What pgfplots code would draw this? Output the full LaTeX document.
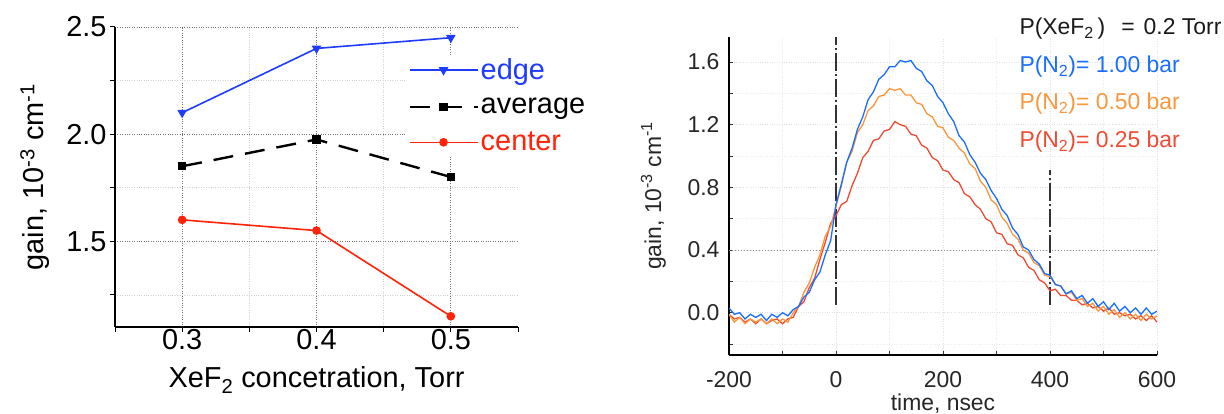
\documentclass[border=0pt]{standalone}
\usepackage{fontspec}
\setmainfont{Liberation Sans}
\usepackage{pgfplots}
\pgfplotsset{compat=1.18}

\definecolor{edgeblue}{RGB}{30,60,255}
\definecolor{centerred}{RGB}{255,35,10}
\definecolor{tblue}{RGB}{25,110,255}
\definecolor{torange}{RGB}{250,150,60}
\definecolor{tred}{RGB}{240,75,50}

\newcommand{\bigf}{\fontsize{29}{33}\selectfont}
\newcommand{\smf}{\fontsize{23}{27}\selectfont}

\begin{document}
\begin{tikzpicture}
\useasboundingbox (0,0) rectangle (1224bp,414bp);

% left panel: gain vs XeF2 concentration
\begin{axis}[
    at={(115bp,87bp)}, anchor=south west,
    scale only axis, width=403bp, height=300bp,
    xmin=0.25, xmax=0.55, ymin=1.1, ymax=2.5,
    axis x line*=bottom, axis y line*=left,
    axis line style={line width=1.2bp},
    xtick={0.3,0.4,0.5}, minor xtick={0.35,0.45},
    extra x ticks={0.25,0.55}, extra x tick labels={},
    extra x tick style={grid=none},
    ytick={1.5,2.0,2.5}, minor ytick={1.25,1.75,2.25},
    tick align=outside, major tick length=5bp, minor tick length=5bp,
    every tick/.style={black, line width=1bp},
    grid=both,
    major grid style={dotted, black!55, line width=0.7bp},
    minor grid style={dotted, black!18, line width=0.7bp},
    /pgf/number format/assume math mode=true,
    xticklabel style={/pgf/number format/fixed, /pgf/number format/precision=1, yshift=6bp},
    yticklabel style={/pgf/number format/fixed, /pgf/number format/fixed zerofill, /pgf/number format/precision=1},
    tick label style={font=\bigf},
    label style={font=\bigf},
    xlabel={XeF\textsubscript{2} concetration, Torr},
    xlabel style={yshift=0bp},
    ylabel={gain, 10\textsuperscript{-3} cm\textsuperscript{-1}},
    ylabel style={yshift=10bp},
    legend cell align=left,
    legend style={at={(0.72,0.908)}, anchor=north west, draw=none, fill=white,
        font=\bigf, row sep=13bp,
        /tikz/every even column/.append style={column sep=6bp}},
    legend image code/.code={\draw[mark repeat=2,mark phase=2,#1]
        plot coordinates {(0bp,0bp) (34bp,0bp) (68bp,0bp)};},
]
\addplot[edgeblue, line width=1.6bp, mark=triangle*, mark size=4bp,
    every mark/.append style={rotate=180, solid}]
    coordinates {(0.3,2.10) (0.4,2.40) (0.5,2.45)};
\addlegendentry{\textcolor{edgeblue}{edge}}
\addplot[black, line width=2.4bp, dash pattern=on 20bp off 12bp,
    mark=square*, mark size=3bp, mark options={solid}]
    coordinates {(0.3,1.85) (0.4,1.975) (0.5,1.80)};
\addlegendentry{average}
\addplot[centerred, line width=1.6bp, mark=*, mark size=3.5bp]
    coordinates {(0.3,1.60) (0.4,1.55) (0.5,1.15)};
\addlegendentry{\textcolor{centerred}{center}}
\end{axis}

% right panel: gain vs time
\begin{axis}[
    at={(729bp,59bp)}, anchor=south west,
    scale only axis, width=428bp, height=318bp,
    xmin=-200, xmax=600, ymin=-0.27, ymax=1.76,
    axis x line*=bottom, axis y line*=left,
    axis line style={line width=1.5bp},
    xtick={-200,0,200,400,600}, minor xtick={-100,100,300,500},
    ytick={0,0.4,0.8,1.2,1.6}, minor ytick={-0.2,0.2,0.6,1.0,1.4},
    tick align=inside, major tick length=4bp, minor tick length=4bp,
    every tick/.style={black!80, line width=1bp},
    grid=both,
    major grid style={dotted, black!12, line width=0.7bp},
    minor grid style={dotted, black!8, line width=0.7bp},
    /pgf/number format/assume math mode=true,
    xticklabel style={/pgf/number format/fixed, yshift=-13bp},
    yticklabel style={/pgf/number format/fixed, /pgf/number format/fixed zerofill, /pgf/number format/precision=1, xshift=-6bp},
    tick label style={font=\smf, text=black!85},
    label style={font=\smf, text=black!85},
    xlabel={time, nsec},
    xlabel style={yshift=1bp},
    ylabel={gain, 10\textsuperscript{-3} cm\textsuperscript{-1}},
    ylabel style={yshift=15bp},
]
\addplot[black!45, dotted, line width=1bp] coordinates {(-200,0.4) (600,0.4)};
\addplot[black!80, line width=1.2bp, dash pattern=on 18bp off 3bp on 2bp off 3bp]
    coordinates {(0,0.05) (0,1.76)};
\addplot[black!80, line width=1.2bp, dash pattern=on 18bp off 3bp on 2bp off 3bp]
    coordinates {(400,0.05) (400,0.91)};

\addplot[tred, line width=1.3bp] coordinates {
(-200,-0.01) (-190,-0.04) (-180,-0.03) (-170,-0.06) (-160,-0.04) (-150,-0.07)
(-140,-0.04) (-130,-0.07) (-120,-0.05) (-110,-0.04) (-100,-0.07) (-90,-0.04)
(-80,-0.03) (-70,0.04) (-60,0.07) (-50,0.16) (-40,0.22) (-30,0.34) (-20,0.45)
(-10,0.57) (0,0.62) (10,0.69) (20,0.71) (30,0.81) (40,0.89) (50,0.99) (60,1.03)
(70,1.10) (80,1.11) (90,1.16) (100,1.17) (110,1.22) (120,1.20) (130,1.19)
(140,1.14) (150,1.13) (160,1.07) (170,1.05) (180,0.99) (190,0.97) (200,0.91)
(210,0.90) (220,0.85) (230,0.83) (240,0.76) (250,0.74) (260,0.69) (270,0.66)
(280,0.60) (290,0.58) (300,0.51) (310,0.50) (320,0.44) (330,0.43) (340,0.37)
(350,0.35) (360,0.29) (370,0.27) (380,0.21) (390,0.19) (400,0.14) (410,0.15)
(420,0.11) (430,0.11) (440,0.08) (450,0.08) (460,0.05) (470,0.06) (480,0.03)
(490,0.04) (500,0.01) (510,0.03) (520,-0.01) (530,0.00) (540,-0.02) (550,-0.01)
(560,-0.04) (570,-0.02) (580,-0.05) (590,-0.02) (600,-0.06)
};
\addplot[torange, line width=1.3bp] coordinates {
(-200,-0.01) (-190,-0.06) (-180,-0.03) (-170,-0.07) (-160,-0.04) (-150,-0.06)
(-140,-0.04) (-130,-0.07) (-120,-0.04) (-110,-0.07) (-100,-0.04) (-90,-0.06)
(-80,0.00) (-70,0.04) (-60,0.13) (-50,0.19) (-40,0.29) (-30,0.37) (-20,0.49)
(-10,0.55) (0,0.68) (10,0.81) (20,0.96) (30,1.03) (40,1.15) (50,1.20) (60,1.29)
(70,1.32) (80,1.38) (90,1.39) (100,1.43) (110,1.42) (120,1.43) (130,1.39)
(140,1.39) (150,1.34) (160,1.33) (170,1.27) (180,1.25) (190,1.19) (200,1.18)
(210,1.12) (220,1.10) (230,1.05) (240,1.02) (250,0.95) (260,0.92) (270,0.84)
(280,0.80) (290,0.72) (300,0.69) (310,0.61) (320,0.57) (330,0.50) (340,0.47)
(350,0.40) (360,0.38) (370,0.32) (380,0.30) (390,0.24) (400,0.23) (410,0.18)
(420,0.17) (430,0.12) (440,0.13) (450,0.08) (460,0.09) (470,0.04) (480,0.06)
(490,0.01) (500,0.04) (510,-0.01) (520,0.02) (530,-0.03) (540,0.00) (550,-0.04)
(560,-0.01) (570,-0.05) (580,-0.01) (590,-0.04) (600,-0.02)
};
\addplot[tblue, line width=1.3bp] coordinates {
(-200,0.03) (-190,-0.01) (-180,0.00) (-170,-0.04) (-160,-0.01) (-150,-0.03)
(-140,-0.01) (-130,-0.05) (-120,-0.01) (-110,-0.03) (-100,0.00) (-90,-0.02)
(-80,0.02) (-70,0.04) (-60,0.10) (-50,0.13) (-40,0.21) (-30,0.26) (-20,0.37)
(-10,0.46) (0,0.69) (10,0.82) (20,0.96) (30,1.05) (40,1.17) (50,1.25) (60,1.36)
(70,1.41) (80,1.49) (90,1.52) (100,1.57) (110,1.57) (120,1.61) (130,1.60)
(140,1.61) (150,1.56) (160,1.54) (170,1.48) (180,1.45) (190,1.38) (200,1.34)
(210,1.27) (220,1.22) (230,1.13) (240,1.09) (250,1.01) (260,0.96) (270,0.89)
(280,0.85) (290,0.78) (300,0.73) (310,0.66) (320,0.62) (330,0.54) (340,0.50)
(350,0.42) (360,0.40) (370,0.34) (380,0.31) (390,0.25) (400,0.24) (410,0.18)
(420,0.17) (430,0.12) (440,0.14) (450,0.09) (460,0.11) (470,0.06) (480,0.09)
(490,0.04) (500,0.07) (510,0.02) (520,0.06) (530,0.01) (540,0.04) (550,0.00)
(560,0.03) (570,-0.01) (580,0.03) (590,-0.01) (600,0.01)
};
\end{axis}

\node[anchor=base west, font=\smf, text=black!90] at (1016bp,379bp)
    {P(XeF\textsubscript{2}\,)\hspace{16bp}=\hspace{9bp}0.2 Torr};
\node[anchor=base west, font=\smf, text=tblue] at (1016bp,341bp)
    {P(N\textsubscript{2})= 1.00 bar};
\node[anchor=base west, font=\smf, text=torange] at (1016bp,304bp)
    {P(N\textsubscript{2})= 0.50 bar};
\node[anchor=base west, font=\smf, text=tred] at (1016bp,266bp)
    {P(N\textsubscript{2})= 0.25 bar};
\end{tikzpicture}
\end{document}
